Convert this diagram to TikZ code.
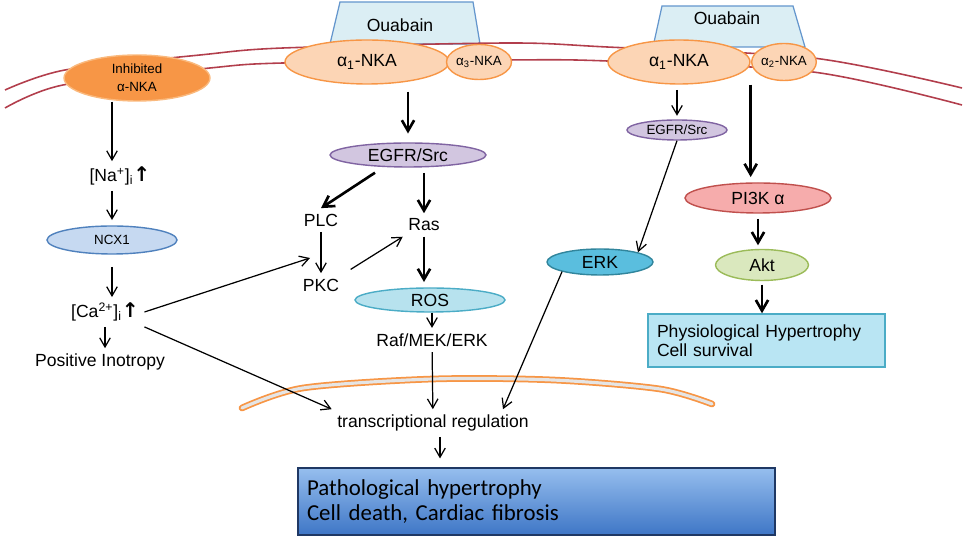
\documentclass[tikz,border=0pt]{standalone}
\usepackage{fontspec}
\setmainfont{Liberation Sans}
\newfontfamily\calib{Carlito}
\newfontfamily\arwfont{DejaVu Sans}
\usetikzlibrary{shapes.geometric,arrows.meta,calc}

\definecolor{membrane}{RGB}{178,62,76}
\definecolor{nucorange}{RGB}{247,150,70}
\definecolor{ouafill}{RGB}{219,238,244}
\definecolor{ouadraw}{RGB}{100,150,205}
\definecolor{inhfill}{RGB}{247,150,70}
\definecolor{inhdraw}{RGB}{250,185,125}
\definecolor{nkafill}{RGB}{252,213,181}
\definecolor{nkadraw}{RGB}{247,150,70}
\definecolor{egfrfill}{RGB}{210,198,224}
\definecolor{egfrdraw}{RGB}{128,100,162}
\definecolor{ncxfill}{RGB}{198,217,241}
\definecolor{ncxdraw}{RGB}{79,129,189}
\definecolor{rosfill}{RGB}{183,226,238}
\definecolor{rosdraw}{RGB}{75,172,198}
\definecolor{erkfill}{RGB}{90,190,222}
\definecolor{erkdraw}{RGB}{49,133,156}
\definecolor{pifill}{RGB}{246,172,172}
\definecolor{pidraw}{RGB}{192,80,77}
\definecolor{aktfill}{RGB}{218,232,190}
\definecolor{aktdraw}{RGB}{155,187,89}
\definecolor{physfill}{RGB}{185,229,243}
\definecolor{pathtop}{RGB}{150,190,238}
\definecolor{pathbot}{RGB}{62,118,198}
\definecolor{pathdraw}{RGB}{31,56,100}

\newcommand{\uparw}{{\arwfont\bfseries\fontsize{11.5}{12}\selectfont ↑}}

\tikzset{
  txt/.style={inner sep=3pt, font=\fontsize{10}{12}\selectfont},
  smalltxt/.style={font=\fontsize{7.6}{10}\selectfont},
  prot/.style={ellipse, draw, line width=0.8pt, inner sep=0pt, font=\fontsize{10}{12}\selectfont},
  thinarrow/.style={-{Straight Barb[angle=60:6pt]}, line width=0.7pt},
  thickarrow/.style={-{Straight Barb[angle=60:7pt]}, line width=1.5pt},
}

\begin{document}
\begin{tikzpicture}[x=0.02cm, y=-0.02cm]
\useasboundingbox (0,0) rectangle (964,546);

% ouabain
\draw[fill=ouafill, draw=ouadraw, line width=0.7pt] (340,2)--(473,2)--(480,44)--(330,44)--cycle;
\draw[fill=ouafill, draw=ouadraw, line width=0.7pt] (662,6)--(793,6)--(805,47)--(653,47)--cycle;
\node[txt] (oua1) at (400,25) {Ouabain};
\node[txt] (oua2) at (727,18) {Ouabain};

% membranes
\draw[membrane, line width=0.9pt] plot[smooth] coordinates {(5,90) (65,70) (200,55) (283,48) (507,43) (607,47) (813,58) (962,88)};
\draw[membrane, line width=0.9pt] plot[smooth] coordinates {(5,108) (63,85) (210,68) (283,63) (507,60) (607,61) (813,72) (962,105)};
\draw[nucorange, line width=1pt, double=gray!20, double distance=1.8pt, line cap=round] plot[smooth] coordinates {(242,408) (303,388) (433,379) (553,380) (660,389) (712,404)};

% pumps
\node[prot, fill=inhfill, draw=inhdraw, minimum width=2.92cm, minimum height=0.92cm, align=center, smalltxt] (inh) at (137,78) {Inhibited\\α-NKA};
\node[prot, fill=nkafill, draw=nkadraw, minimum width=3.28cm, minimum height=0.88cm] (a1L) at (367,62) {α\textsubscript{1}-NKA};
\node[prot, fill=nkafill, draw=nkadraw, minimum width=1.3cm, minimum height=0.7cm, smalltxt] (a3) at (479,62) {α\textsubscript{3}-NKA};
\node[prot, fill=nkafill, draw=nkadraw, minimum width=2.84cm, minimum height=0.88cm] (a1R) at (679,62) {α\textsubscript{1}-NKA};
\node[prot, fill=nkafill, draw=nkadraw, minimum width=1.28cm, minimum height=0.74cm, smalltxt] (a2) at (784,62) {α\textsubscript{2}-NKA};

% left pathway
\node[txt] (na) at (120,176) {[Na\textsuperscript{+}]\textsubscript{i}\uparw};
\node[prot, fill=ncxfill, draw=ncxdraw, minimum width=2.6cm, minimum height=0.56cm, smalltxt] (ncx) at (112,240) {NCX1};
\node[txt] (ca) at (105,312) {[Ca\textsuperscript{2+}]\textsubscript{i}\uparw};
\node[txt] (pos) at (100,362) {Positive Inotropy};

% middle pathway
\node[prot, fill=egfrfill, draw=egfrdraw, minimum width=3.12cm, minimum height=0.48cm] (egfrL) at (408,155) {EGFR/Src};
\node[txt] (plc) at (321,220) {PLC};
\node[txt] (pkc) at (321,285) {PKC};
\node[txt] (ras) at (424,225) {Ras};
\node[prot, fill=rosfill, draw=rosdraw, minimum width=3.0cm, minimum height=0.48cm] (ros) at (430,300) {ROS};
\node[txt] (raf) at (432,340) {Raf/MEK/ERK};
\node[txt] (trans) at (433,423) {transcriptional regulation};
\node[draw=pathdraw, top color=pathtop, bottom color=pathbot, line width=0.9pt, minimum width=9.54cm, minimum height=1.34cm, text width=9.18cm, inner xsep=0.18cm, align=left, font=\calib\fontsize{13}{14.7}\selectfont] (patho) at (536.5,501.5) {Pathological hypertrophy\\Cell death, Cardiac fibrosis};

% right pathway
\node[prot, fill=egfrfill, draw=egfrdraw, minimum width=2.0cm, minimum height=0.4cm, smalltxt] (egfrR) at (677,130) {EGFR/Src};
\node[prot, fill=erkfill, draw=erkdraw, minimum width=2.12cm, minimum height=0.52cm] (erk) at (600,262) {ERK};
\node[prot, fill=pifill, draw=pidraw, minimum width=2.92cm, minimum height=0.6cm] (pi3k) at (758,198) {PI3K α};
\node[prot, fill=aktfill, draw=aktdraw, minimum width=1.86cm, minimum height=0.62cm] (akt) at (762,265) {Akt};
\node[draw=rosdraw, fill=physfill, line width=0.8pt, minimum width=4.74cm, minimum height=1.06cm, text width=4.38cm, inner xsep=0.18cm, align=left, font=\fontsize{10}{10.8}\selectfont] (phys) at (766.5,340.5) {Physiological Hypertrophy\\Cell survival};

\coordinate (pkcin) at (310,258);

\draw[thinarrow] (inh.south -| ncx) -- (na.north -| ncx);
\draw[thinarrow, shorten >=3pt] (na.south -| ncx) -- (ncx.north);
\draw[thinarrow, shorten <=7pt] (ncx.south) -- (ca.north -| ncx);
\draw[thinarrow] (ca.south) -- (ca.south |- pos.north);
\draw[thinarrow] (ca.east) -- (pkcin);
\draw[thinarrow] (ca.south east) -- (trans.north west);

\draw[thickarrow, shorten <=4pt, shorten >=5pt] (a1L.south -| egfrL) -- (egfrL.north);
\draw[thickarrow] ([xshift=-0.66cm, yshift=-0.1cm]egfrL.south) -- (plc.north);
\draw[thickarrow, shorten <=3pt] (egfrL.south -| ras) -- (ras.north);
\draw[thinarrow] (plc) -- (pkc);
\draw[thinarrow, shorten <=4pt] (pkc.north east) -- (ras.south west);
\draw[thickarrow, shorten >=3pt] (ras) -- (ras |- ros.north);
\draw[thinarrow] (ros.south -| raf) -- (raf.north);
\draw[thinarrow] (raf) -- (trans);
\draw[thinarrow, shorten >=5pt] ($(trans.south)+(7,0)$) -- ($(trans.south |- patho.north)+(7,0)$);

\draw[thinarrow, shorten <=3pt, shorten >=2pt] (a1R.south -| egfrR) -- (egfrR.north);
\draw[thinarrow] (egfrR.south) -- (erk.north east);
\draw[thinarrow] (erk.south west) -- ($(trans.north)+(70,0)$);
\draw[thickarrow, shorten >=3pt] (a1R.east |- a1R.south) -- (a1R.east |- pi3k.north);
\draw[thickarrow, shorten <=3pt, shorten >=2pt] (pi3k.south) -- (pi3k.south |- akt.north);
\draw[thickarrow, shorten <=2pt] (akt.south) -- (akt.south |- phys.north);

\end{tikzpicture}
\end{document}
